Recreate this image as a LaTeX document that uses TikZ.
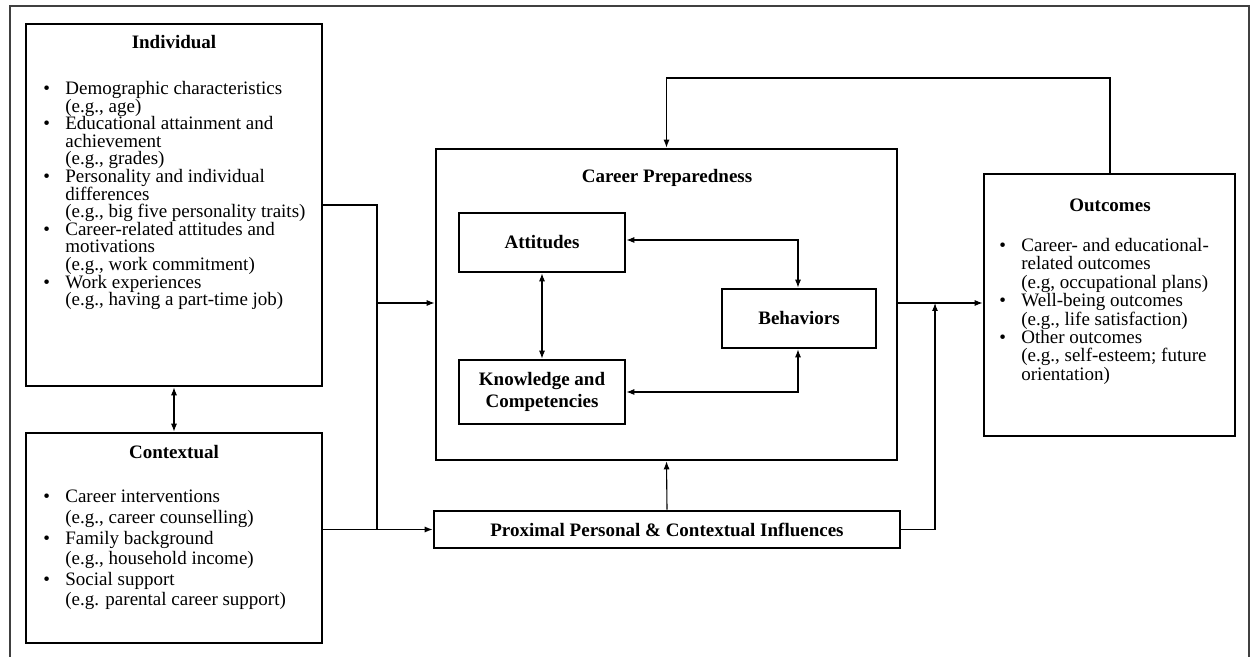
\documentclass[tikz,border=0pt]{standalone}
\usepackage{fontspec}
\setmainfont{Liberation Serif}
\usetikzlibrary{arrows.meta,fit}
\newcommand{\bul}{\makebox[11pt][l]{\textbullet}}
\newcommand{\ind}{\hspace*{11pt}}
\begin{document}
\begin{tikzpicture}[x=0.5pt,y=-0.5pt,
  box/.style={draw, line width=1.3pt, inner sep=0pt},
  conn/.style={line width=0.55pt},
  arr/.style={conn, -{Latex[length=4pt,width=3pt]}},
  darr/.style={conn, {Latex[length=4pt,width=3pt]}-{Latex[length=4pt,width=3pt]}},
  ttl/.style={font=\fontsize{9.5}{11}\selectfont\bfseries, inner sep=0pt, align=center},
  body/.style={align=left, inner sep=0pt, anchor=north west},
]
\useasboundingbox (0,0) rectangle (1252,657);
\draw[line width=0.7pt, black!75] (10,657) -- (10,6) -- (1249,6) -- (1249,657);

% boxes
\node[box, fit={(26,24)(322,386)}] (ind) {};
\node[box, fit={(26,433)(322,643)}] (ctx) {};
\node[box, fit={(436,149)(897,460)}] (cp) {};
\node[box, fit={(459,213)(625,272)}] (att) {};
\node[box, fit={(722,289)(876,348)}] (beh) {};
\node[box, fit={(459,360)(625,424)}] (kc) {};
\node[box, fit={(434,511)(900,548)}] (prox) {};
\node[box, fit={(984,174)(1235,436)}] (out) {};

% texts
\node[ttl] (indT) at (174,42) {Individual};
\node[body, font=\fontsize{9.5}{8.8}\selectfont] (indB) at (43,81) {\bul Demographic characteristics\\
\ind(e.g., age)\\
\bul Educational attainment and\\
\ind achievement\\
\ind(e.g., grades)\\
\bul Personality and individual\\
\ind differences\\
\ind(e.g., big five personality traits)\\
\bul Career-related attitudes and\\
\ind motivations\\
\ind(e.g., work commitment)\\
\bul Work experiences\\
\ind(e.g., having a part-time job)};

\node[ttl] (ctxT) at (174,452) {Contextual};
\node[body, font=\fontsize{9.5}{10.3}\selectfont] (ctxB) at (43,490) {\bul Career interventions\\
\ind(e.g., career counselling)\\
\bul Family background\\
\ind(e.g., household income)\\
\bul Social support\\
\ind(e.g. parental career support)};

\node[ttl] (outT) at (1110,205) {Outcomes};
\node[body, font=\fontsize{9.5}{9.2}\selectfont] (outB) at (999,238) {\bul Career- and educational-\\
\ind related outcomes\\
\ind(e.g, occupational plans)\\
\bul Well-being outcomes\\
\ind(e.g., life satisfaction)\\
\bul Other outcomes\\
\ind(e.g., self-esteem; future\\
\ind orientation)};

\node[ttl] (cpT) at (667,178) {Career Preparedness};
\node[ttl] (attT) at (att.center) {Attitudes};
\node[ttl] (behT) at (beh.center) {Behaviors};
\node[ttl] (kcT) at (kc.center) {Knowledge and\\Competencies};
\node[ttl] (proxT) at (prox.center) {Proximal Personal \& Contextual Influences};

% connectors
\coordinate (j1) at (377,205);
\coordinate (j2) at (377,303);
\coordinate (j3) at (377,529.5);
\draw[conn] (ind.east |- j1) -- (j1) -- (j3);
\draw[arr] (j2) -- (cp.west |- j2);
\draw[arr] (ctx.east |- j3) -- (prox.west);
\draw[darr] (ind.south) -- (ctx.north);

\coordinate (j4) at (935,303);
\draw[arr] (cp.east |- j4) -- (out.west |- j4);
\draw[arr] (prox.east) -- (prox.east -| j4) -- (j4);
\draw[arr] (prox.north) -- (cp.south);

\coordinate (t1) at (1110,78);
\draw[arr] (out.north -| t1) -- (t1) -- (t1 -| cp.north) -- (cp.north);

\coordinate (b1) at (798,240);
\coordinate (b2) at (798,392);
\draw[darr] (att.east |- b1) -- (b1) -- (b1 |- beh.north);
\draw[darr] (kc.east |- b2) -- (b2) -- (b2 |- beh.south);
\draw[darr] (att.south) -- (kc.north);
\end{tikzpicture}
\end{document}
